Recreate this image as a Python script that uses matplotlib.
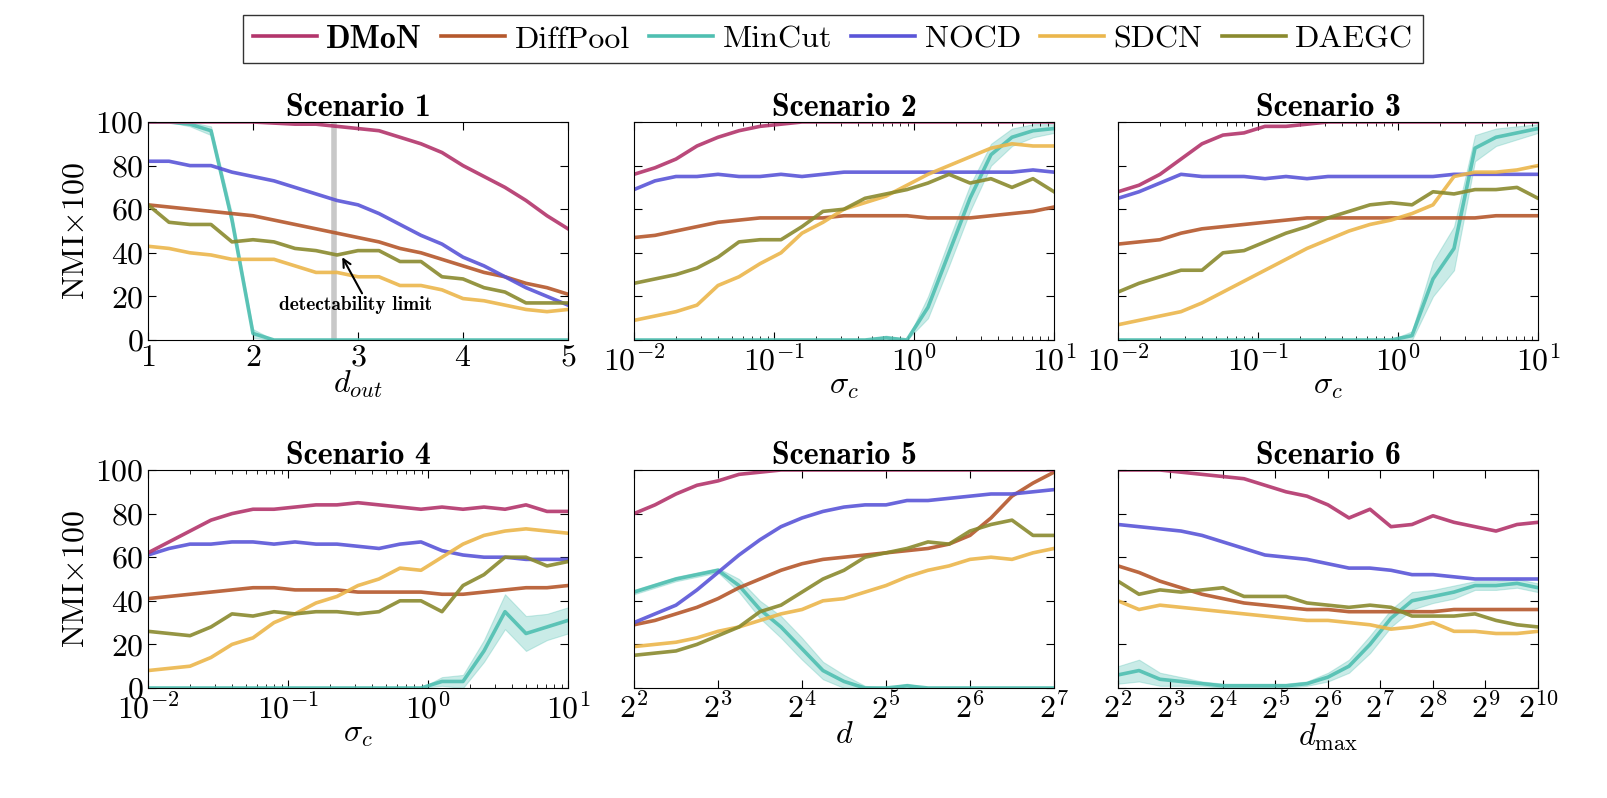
import numpy as np
import matplotlib
matplotlib.use("Agg")
import matplotlib.pyplot as plt
from matplotlib.lines import Line2D

plt.rcParams["font.family"] = ["cmr10", "DejaVu Serif"]
plt.rcParams["mathtext.fontset"] = "cm"
plt.rcParams["axes.formatter.use_mathtext"] = True
plt.rcParams["axes.unicode_minus"] = False

COLORS = {"DMoN": "#b3356c", "DiffPool": "#b5582c", "MinCut": "#4fbfb1",
          "NOCD": "#5a55d8", "SDCN": "#ebb64b", "DAEGC": "#8a8a2e"}
METHODS = ["DMoN", "DiffPool", "MinCut", "NOCD", "SDCN", "DAEGC"]

# --- data ---
x1 = np.linspace(1, 5, 21)
s1 = {
    "DMoN": [100, 100, 100, 100, 100, 100, 99.5, 99, 99, 98, 97, 96, 93, 90, 86, 80, 75, 70, 64, 57, 51],
    "NOCD": [82, 82, 80, 80, 77, 75, 73, 70, 67, 64, 62, 58, 53, 48, 44, 38, 34, 29, 24, 20, 16],
    "DiffPool": [62, 61, 60, 59, 58, 57, 55, 53, 51, 49, 47, 45, 42, 40, 37, 34, 31, 29, 26, 24, 21],
    "DAEGC": [62, 54, 53, 53, 45, 46, 45, 42, 41, 39, 41, 41, 36, 36, 29, 28, 24, 22, 17, 17, 17],
    "SDCN": [43, 42, 40, 39, 37, 37, 37, 34, 31, 31, 29, 29, 25, 25, 23, 19, 18, 16, 14, 13, 14],
    "MinCut": [100, 100, 99, 96, 55, 3, 0, 0, 0, 0, 0, 0, 0, 0, 0, 0, 0, 0, 0, 0, 0],
}
e1 = [0, 0, 1, 2, 3, 2, 0, 0, 0, 0, 0, 0, 0, 0, 0, 0, 0, 0, 0, 0, 0]

x2 = np.logspace(-2, 1, 21)
s2 = {
    "DMoN": [76, 79, 83, 89, 93, 96, 98, 99, 100, 100, 100, 100, 100, 100, 100, 100, 100, 100, 100, 100, 100],
    "NOCD": [69, 73, 75, 75, 76, 75, 75, 76, 75, 76, 77, 77, 77, 77, 77, 77, 77, 77, 77, 78, 77],
    "DiffPool": [47, 48, 50, 52, 54, 55, 56, 56, 56, 56, 57, 57, 57, 57, 56, 56, 56, 57, 58, 59, 61],
    "DAEGC": [26, 28, 30, 33, 38, 45, 46, 46, 52, 59, 60, 65, 67, 69, 72, 76, 72, 74, 70, 74, 68],
    "SDCN": [9, 11, 13, 16, 25, 29, 35, 40, 49, 54, 60, 63, 66, 71, 76, 80, 84, 88, 90, 89, 89],
    "MinCut": [0, 0, 0, 0, 0, 0, 0, 0, 0, 0, 0, 0, 1, 0, 15, 40, 65, 85, 93, 96, 97],
}
e2 = [0] * 12 + [1, 0, 5, 6, 6, 5, 4, 3, 2]

x3 = np.logspace(-2, 1, 21)
s3 = {
    "DMoN": [68, 71, 76, 83, 90, 94, 95, 98, 98, 99, 100, 100, 100, 100, 100, 100, 100, 100, 100, 100, 100],
    "NOCD": [65, 68, 72, 76, 75, 75, 75, 74, 75, 74, 75, 75, 75, 75, 75, 75, 76, 76, 76, 76, 76],
    "DiffPool": [44, 45, 46, 49, 51, 52, 53, 54, 55, 56, 56, 56, 56, 56, 56, 56, 56, 56, 57, 57, 57],
    "DAEGC": [22, 26, 29, 32, 32, 40, 41, 45, 49, 52, 56, 59, 62, 63, 62, 68, 67, 69, 69, 70, 65],
    "SDCN": [7, 9, 11, 13, 17, 22, 27, 32, 37, 42, 46, 50, 53, 55, 58, 62, 75, 77, 77, 78, 80],
    "MinCut": [0, 0, 0, 0, 0, 0, 0, 0, 0, 0, 0, 0, 0, 0, 2, 28, 42, 88, 93, 95, 97],
}
e3 = [0] * 14 + [2, 8, 10, 6, 4, 3, 2]

x4 = np.logspace(-2, 1, 21)
s4 = {
    "DMoN": [62, 67, 72, 77, 80, 82, 82, 83, 84, 84, 85, 84, 83, 82, 83, 82, 83, 82, 84, 81, 81],
    "NOCD": [61, 64, 66, 66, 67, 67, 66, 67, 66, 66, 65, 64, 66, 67, 63, 61, 60, 60, 59, 59, 59],
    "DiffPool": [41, 42, 43, 44, 45, 46, 46, 45, 45, 45, 44, 44, 44, 44, 43, 43, 44, 45, 46, 46, 47],
    "DAEGC": [26, 25, 24, 28, 34, 33, 35, 34, 35, 35, 34, 35, 40, 40, 35, 47, 52, 60, 60, 56, 58],
    "SDCN": [8, 9, 10, 14, 20, 23, 30, 34, 39, 42, 47, 50, 55, 54, 60, 66, 70, 72, 73, 72, 71],
    "MinCut": [0, 0, 0, 0, 0, 0, 0, 0, 0, 0, 0, 0, 0, 0, 3, 3, 17, 35, 25, 28, 31],
}
e4 = [0] * 14 + [2, 3, 5, 8, 8, 6, 6]

x5 = 2 ** np.linspace(2, 7, 21)
s5 = {
    "DMoN": [80, 84, 89, 93, 95, 98, 99, 100, 100, 100, 100, 100, 100, 100, 100, 100, 100, 100, 100, 100, 100],
    "NOCD": [30, 34, 38, 45, 53, 61, 68, 74, 78, 81, 83, 84, 84, 86, 86, 87, 88, 89, 89, 90, 91],
    "DiffPool": [29, 31, 34, 37, 41, 46, 50, 54, 57, 59, 60, 61, 62, 63, 64, 66, 70, 78, 88, 94, 99],
    "DAEGC": [15, 16, 17, 20, 24, 28, 35, 38, 44, 50, 54, 60, 62, 64, 67, 66, 72, 75, 77, 70, 70],
    "SDCN": [19, 20, 21, 23, 26, 28, 31, 34, 36, 40, 41, 44, 47, 51, 54, 56, 59, 60, 59, 62, 64],
    "MinCut": [44, 47, 50, 52, 54, 47, 36, 28, 18, 8, 3, 0, 0, 1, 0, 0, 0, 0, 0, 0, 0],
}
e5 = [1, 1, 1, 1, 1, 3, 4, 5, 5, 4, 3, 1, 0, 1, 0, 0, 0, 0, 0, 0, 0]

x6 = 2 ** np.linspace(2, 10, 21)
s6 = {
    "DMoN": [100, 100, 100, 99, 98, 97, 96, 93, 90, 88, 84, 78, 82, 74, 75, 79, 76, 74, 72, 75, 76],
    "NOCD": [75, 74, 73, 72, 70, 67, 64, 61, 60, 59, 57, 55, 55, 54, 52, 52, 51, 50, 50, 50, 50],
    "DiffPool": [56, 53, 49, 46, 43, 41, 39, 38, 37, 36, 36, 35, 35, 35, 35, 35, 36, 36, 36, 36, 36],
    "DAEGC": [49, 43, 45, 44, 45, 46, 42, 42, 42, 39, 38, 37, 38, 37, 33, 33, 33, 34, 31, 29, 28],
    "SDCN": [40, 36, 38, 37, 36, 35, 34, 33, 32, 31, 31, 30, 29, 27, 28, 30, 26, 26, 25, 25, 26],
    "MinCut": [6, 8, 4, 3, 2, 1, 1, 1, 1, 2, 5, 10, 20, 32, 40, 42, 44, 47, 47, 48, 46],
}
e6 = [4, 5, 3, 2, 1, 1, 1, 1, 1, 1, 2, 3, 4, 4, 4, 3, 3, 2, 2, 2, 2]

panels = [
    ("Scenario 1", x1, s1, e1, r"$d_{out}$"),
    ("Scenario 2", x2, s2, e2, r"$\sigma_c$"),
    ("Scenario 3", x3, s3, e3, r"$\sigma_c$"),
    ("Scenario 4", x4, s4, e4, r"$\sigma_c$"),
    ("Scenario 5", x5, s5, e5, r"$d$"),
    ("Scenario 6", x6, s6, e6, r"$d_{\max}$"),
]

W, H = 1608, 798
fig = plt.figure(figsize=(W / 100, H / 100), dpi=100)
lefts = [148, 634, 1118]
tops = [122, 470]
aw, ah = 420, 218
FS = 23

for i, (title, x, series, err, xlab) in enumerate(panels):
    r, c = divmod(i, 3)
    ax = fig.add_axes([lefts[c] / W, 1 - (tops[r] + ah) / H, aw / W, ah / H])
    for m in ["MinCut", "DiffPool", "NOCD", "SDCN", "DAEGC", "DMoN"]:
        y = np.array(series[m], dtype=float)
        if m == "MinCut":
            e = np.array(err, dtype=float)
            ax.fill_between(x, np.clip(y - e, 0, 100), np.clip(y + e, 0, 100),
                            color=COLORS[m], alpha=0.3, lw=0.8, edgecolor=COLORS[m])
        ax.plot(x, y, color=COLORS[m], lw=2.6, alpha=0.9)
    ax.set_ylim(0, 100)
    ax.set_yticks([0, 20, 40, 60, 80, 100])
    if i == 0:
        ax.set_xlim(1, 5)
        ax.set_xticks([1, 2, 3, 4, 5])
        ax.axvline(2.77, color="#c8c8c8", lw=4, zorder=0)
        ax.annotate("detectability limit", xy=(2.85, 38), xytext=(2.98, 16),
                    fontsize=14, fontfamily="cmb10", ha="center", va="center",
                    arrowprops=dict(arrowstyle="->", color="black", lw=1.5,
                                    shrinkA=0, shrinkB=0, relpos=(0.55, 1.0)))
    elif i in (1, 2, 3):
        ax.set_xscale("log")
        ax.set_xlim(1e-2, 1e1)
        ax.set_xticks([1e-2, 1e-1, 1e0, 1e1])
    else:
        ax.set_xscale("log", base=2)
        ax.set_xlim(x[0], x[-1])
        lo, hi = int(np.log2(x[0])), int(np.log2(x[-1]))
        ax.set_xticks([2 ** k for k in range(lo, hi + 1)])
        ax.minorticks_off()
    ax.tick_params(which="both", direction="in", top=True, right=True, labelsize=FS)
    ax.tick_params(which="major", length=6, pad=3)
    ax.tick_params(which="minor", length=3)
    if c != 0:
        ax.set_yticklabels([])
    else:
        ax.set_ylabel(r"NMI$\times$100", fontsize=FS)
    ax.set_xlabel(xlab, fontsize=FS, labelpad=-2)
    ax.set_title(title, fontsize=FS, fontfamily="cmb10", pad=2)

handles = [Line2D([], [], color=COLORS[m], lw=2.6) for m in METHODS]
leg = fig.legend(handles, METHODS, loc="center", bbox_to_anchor=(833 / W, 1 - 39 / H),
                 ncol=6, fontsize=FS, frameon=True, fancybox=False, edgecolor="black",
                 handlelength=2.0, columnspacing=0.6, handletextpad=0.3, borderpad=0.3)
leg.get_frame().set_linewidth(1.0)
leg.get_texts()[0].set_fontfamily("cmb10")

fig.savefig("out.png", dpi=100)
